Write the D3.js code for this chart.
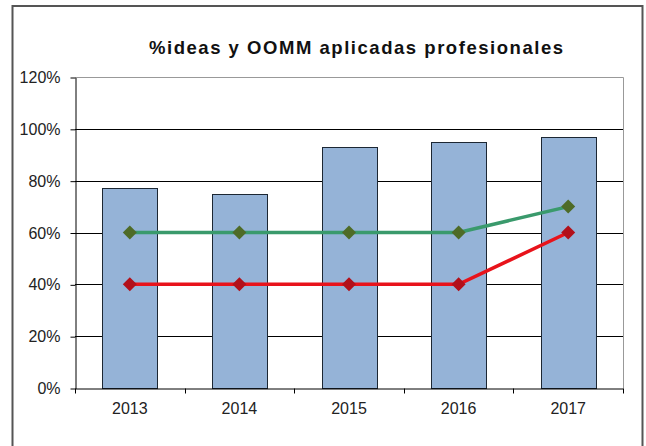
<!DOCTYPE html>
<html>
<head>
<meta charset="utf-8">
<script src="https://cdn.jsdelivr.net/npm/d3@7"></script>
<style>
  body { margin: 0; background: #fff; }
  svg { display: block; font-family: "Liberation Sans", Arial, sans-serif; }
</style>
</head>
<body>
<script>
const YEARS = ["2013", "2014", "2015", "2016", "2017"];
const BARS = [77, 75, 93, 95, 97];
const GREEN = [60, 60, 60, 60, 70];
const RED = [40, 40, 40, 40, 60];
const Y_TICKS = [0, 20, 40, 60, 80, 100, 120];

const width = 646,
  height = 446,
  plot = { left: 75, right: 623, top: 77, bottom: 388 };

const svg = d3
  .select("body")
  .append("svg")
  .attr("width", width)
  .attr("height", height);

// outer frame (bottom edge runs off the picture)
svg
  .append("path")
  .attr("d", `M12.5,${height + 2}V6H642.5V${height + 2}`)
  .attr("fill", "none")
  .attr("stroke", "#555")
  .attr("stroke-width", 2);

svg
  .append("text")
  .attr("x", 356)
  .attr("y", 54)
  .attr("text-anchor", "middle")
  .attr("font-size", 18.5)
  .attr("font-weight", "bold")
  .attr("textLength", 414)
  .attr("lengthAdjust", "spacing")
  .attr("fill", "#111")
  .text("%ideas y OOMM aplicadas profesionales");

const xScale = d3
  .scaleBand()
  .domain(YEARS)
  .range([plot.left, plot.right])
  .paddingInner(0.5)
  .paddingOuter(0.25);

const xBand = d3.scaleBand().domain(YEARS).range([plot.left, plot.right]);

const yScale = d3.scaleLinear().domain([0, 120]).range([plot.bottom, plot.top]);

// gridlines
svg
  .append("g")
  .selectAll("line")
  .data(Y_TICKS.filter(t => t > 0 && t < 120))
  .join("line")
  .attr("x1", plot.left)
  .attr("x2", plot.right)
  .attr("y1", d => Math.round(yScale(d)) + 0.5)
  .attr("y2", d => Math.round(yScale(d)) + 0.5)
  .attr("stroke", "#000");

// plot frame, top and right
svg
  .append("path")
  .attr(
    "d",
    `M${plot.left},${Math.round(yScale(120)) + 0.5}H${plot.right + 0.5}V${plot.bottom}`
  )
  .attr("fill", "none")
  .attr("stroke", "#999");

// bars
svg
  .append("g")
  .selectAll("rect")
  .data(BARS)
  .join("rect")
  .attr("x", (d, i) => Math.round(xScale(YEARS[i])) + 0.5)
  .attr("y", d => Math.round(yScale(d)) + 0.5)
  .attr("width", Math.round(xScale.bandwidth()))
  .attr("height", d => Math.round(yScale(0)) - Math.round(yScale(d)))
  .attr("fill", "#95b3d7")
  .attr("stroke", "#1c2733")
  .attr("stroke-width", 1);

// y axis
const yAxis = d3
  .axisLeft(yScale)
  .tickValues(Y_TICKS)
  .tickFormat(d => d + "%")
  .tickSize(5)
  .tickSizeOuter(0)
  .tickPadding(10);

const gy = svg
  .append("g")
  .attr("transform", `translate(${plot.left + 0.5},0.5)`)
  .call(yAxis);
gy.select(".domain").attr("stroke", "#000");
gy.selectAll("text")
  .attr("font-size", 16)
  .attr("font-family", "Liberation Sans, Arial, sans-serif")
  .attr("fill", "#222");

// x axis
const xAxis = d3.axisBottom(xBand).tickSize(0).tickSizeOuter(0).tickPadding(14);

const gx = svg
  .append("g")
  .attr("transform", `translate(0,${plot.bottom + 0.5})`)
  .call(xAxis);
gx.select(".domain").attr("stroke", "#000");
gx.selectAll("text")
  .attr("font-size", 16)
  .attr("font-family", "Liberation Sans, Arial, sans-serif")
  .attr("fill", "#222");

// category boundary ticks under the axis
gx.append("g")
  .selectAll("line")
  .data(YEARS.concat(["end"]))
  .join("line")
  .attr("x1", (d, i) => Math.round(plot.left + i * xBand.step()) + 0.5)
  .attr("x2", (d, i) => Math.round(plot.left + i * xBand.step()) + 0.5)
  .attr("y1", 0)
  .attr("y2", 5)
  .attr("stroke", "#000");

// lines with diamond markers
const series = [
  { values: GREEN, line: "#3a9a6c", marker: "#4e6b27" },
  { values: RED, line: "#e8131b", marker: "#b2101a" }
];

const cx = i => xBand(YEARS[i]) + xBand.bandwidth() / 2;

const lineGen = d3
  .line()
  .x((d, i) => cx(i))
  .y(d => yScale(d));

series.forEach(s => {
  svg
    .append("path")
    .datum(s.values)
    .attr("d", lineGen)
    .attr("fill", "none")
    .attr("stroke", s.line)
    .attr("stroke-width", 3.5);

  svg
    .append("g")
    .selectAll("path")
    .data(s.values)
    .join("path")
    .attr("transform", (d, i) => `translate(${cx(i)},${yScale(d)})`)
    .attr("d", "M0,-7L7,0L0,7L-7,0Z")
    .attr("fill", s.marker);
});
</script>
</body>
</html>
